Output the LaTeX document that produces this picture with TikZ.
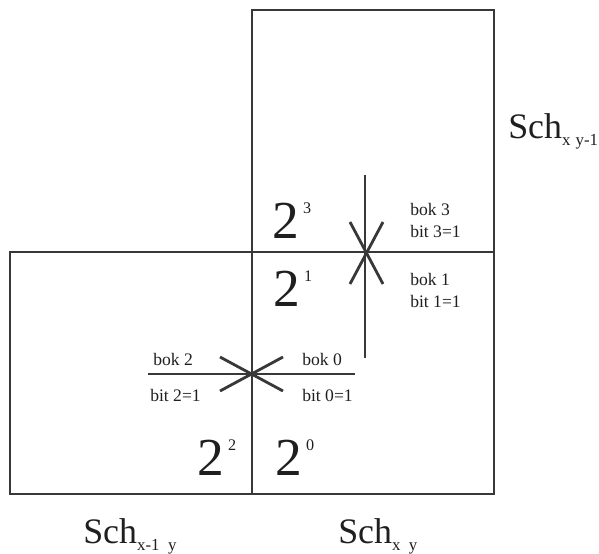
\documentclass[tikz,border=0pt]{standalone}
\usepackage{fontspec}
\setmainfont{Liberation Serif}
\usetikzlibrary{positioning}
\definecolor{linegray}{rgb}{0.22,0.22,0.22}
\definecolor{inkgray}{rgb}{0.12,0.12,0.12}
% power of two with a small raised exponent
\newcommand{\pwr}[1]{{\fontsize{38}{38}\selectfont 2}\hspace{3pt}%
  \raisebox{17.5pt}{\fontsize{11.5}{11.5}\selectfont #1}}
% Sch label with a lowered index
\newcommand{\schlab}[1]{{\fontsize{25.5}{25.5}\selectfont Sch}%
  \raisebox{-5pt}{\fontsize{12}{12}\selectfont #1}}

\begin{document}
\begin{tikzpicture}[x=0.025cm, y=-0.025cm,
      cell/.style={draw=linegray, line width=2pt, inner sep=0pt,
                   minimum width=6.05cm, minimum height=6.05cm},
      seg/.style={draw=linegray, line width=2pt},
      pw/.style={anchor=base west, inner sep=0pt, text=inkgray},
      lab/.style={anchor=base west, inner sep=0pt, text=inkgray,
                  font=\fontsize{12.5}{12.5}\selectfont},
      sch/.style={anchor=base west, inner sep=0pt, text=inkgray}
  ]
    \useasboundingbox (0,0) rectangle (599,553);
    % the three cells
    \node[cell] (cup)    at (373,131) {};
    \node[cell] (cleft)  at (131,373) {};
    \node[cell] (cright) at (373,373) {};

    % powers of two in the corners
    \node[pw] (p3) at (272,238) {\pwr{3}};
    \node[pw] (p1) at (273,306) {\pwr{1}};
    \node[pw] (p2) at (197,475) {\pwr{2}};
    \node[pw] (p0) at (275,475) {\pwr{0}};

    % upper crossing
    \coordinate (vtop) at (365,175);
    \coordinate (vbot) at (365,358);
    \coordinate (ua) at (350,222);
    \coordinate (ub) at (383,284);
    \coordinate (uc) at (383,222);
    \coordinate (ud) at (350,284);
    \draw[seg] (vtop) -- (vbot);
    \draw[seg] (ua) -- (ub);
    \draw[seg] (uc) -- (ud);

    % lower crossing
    \coordinate (hl) at (148,374);
    \coordinate (hr) at (355,374);
    \coordinate (la) at (220,357);
    \coordinate (lb) at (283,391);
    \coordinate (lc) at (220,391);
    \coordinate (ld) at (283,357);
    \draw[seg] (hl) -- (hr);
    \draw[seg] (la) -- (lb);
    \draw[seg] (lc) -- (ld);

    % side labels
    \node[lab] (bok3) at (410,215) {bok 3};
    \node[lab] (bit3) at (410,237) {bit 3=1};
    \node[lab] (bok1) at (410,285) {bok 1};
    \node[lab] (bit1) at (410,307) {bit 1=1};
    \node[lab] (bok2) at (153,365) {bok 2};
    \node[lab] (bit2) at (150,401) {bit 2=1};
    \node[lab] (bok0) at (302,365) {bok 0};
    \node[lab] (bit0) at (302,401) {bit 0=1};

    % cell names
    \node[sch] (sleft)  at (83,543)  {\schlab{x-1\hspace{0.5em}y}};
    \node[sch] (sright) at (338,543) {\schlab{x\hspace{0.5em}y}};
    \node[sch] (sup)    at (508,138) {\schlab{x\hspace{0.3em}y-1}};
\end{tikzpicture}
\end{document}
